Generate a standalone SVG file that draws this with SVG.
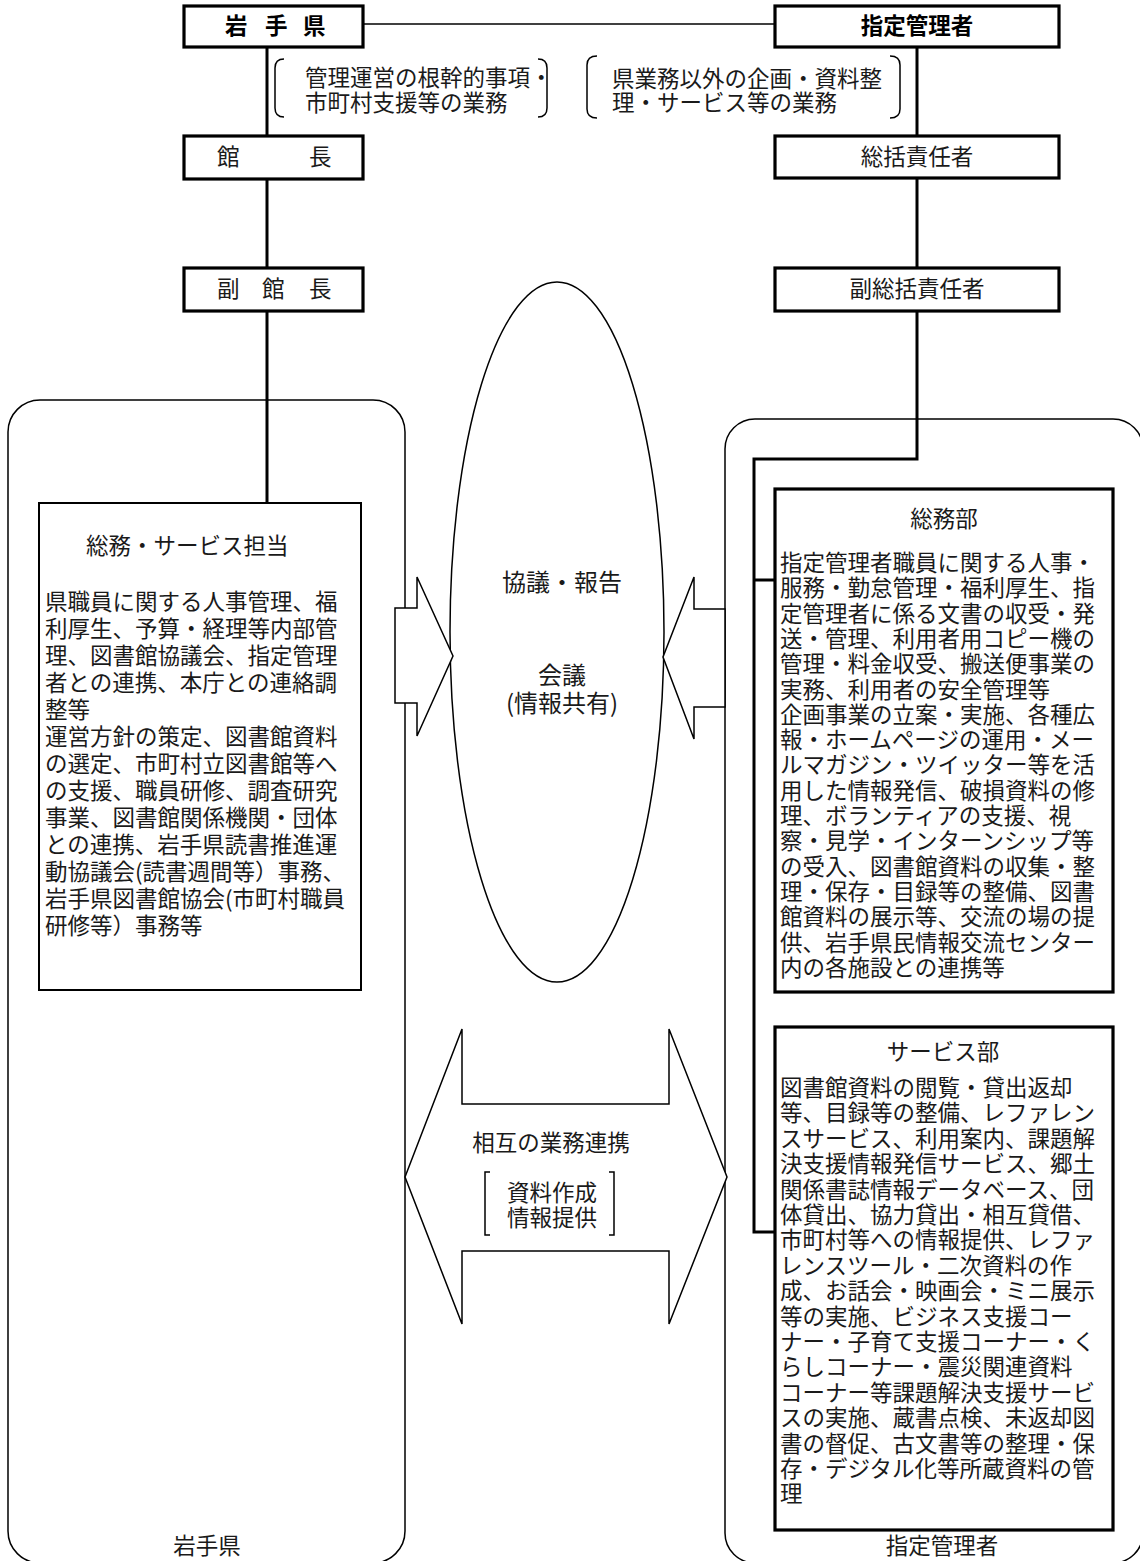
<svg xmlns="http://www.w3.org/2000/svg" width="1140" height="1561" viewBox="0 0 1140 1561">
<style>
text{font-family:"Noto Sans CJK JP","Noto Sans CJK SC",sans-serif;font-size:22.5px;fill:#1a1a1a}
.b{font-weight:bold;fill:#000}
.m{text-anchor:middle}
.big{font-size:24px}
.thick{fill:#fff;stroke:#000;stroke-width:3.2}
.thin{fill:none;stroke:#000;stroke-width:1.5}
.wf{fill:#fff;stroke:#000;stroke-width:1.5;stroke-linejoin:miter}
.conn{fill:none;stroke:#000;stroke-width:3}
</style>
<rect x="0" y="0" width="1140" height="1561" fill="#fff"/>

<g id="group-iwate">
<rect class="thin" x="8" y="400" width="397" height="1163" rx="32"/>
<text class="m" x="207" y="1554">岩手県</text>
</g>
<g id="group-shitei">
<rect class="thin" x="725" y="419" width="418" height="1144" rx="30"/>
<text class="m" x="942" y="1554">指定管理者</text>
</g>

<g id="meeting">
<ellipse class="thin" cx="557" cy="632" rx="107" ry="350"/>
<text class="m big" x="562" y="591">協議・報告</text>
<text class="m big" x="562" y="684">会議</text>
<text class="m big" x="562" y="712">(情報共有)</text>
</g>

<g id="arrows">
<polygon class="wf" points="395,608 417,608 417,577 453,656 417,736 417,703 395,703"/>
<polygon class="wf" points="725,609 694,609 694,577 663,657 694,739 694,707 725,707"/>
<polygon class="wf" points="405,1177 462,1029 462,1104 669,1104 669,1029 727,1177 669,1324 669,1251 462,1251 462,1324"/>
</g>
<g id="cooperation">
<text class="m" x="551" y="1151">相互の業務連携</text>
<path class="thin" d="M490,1172 H485 V1235 H490 M609,1172 H614 V1235 H609"/>
<text class="m" x="552" y="1201">資料作成</text>
<text class="m" x="552" y="1226">情報提供</text>
</g>

<g id="connectors">
<line class="thin" x1="363" y1="24" x2="775" y2="24"/>
<path class="conn" d="M267,47 V136 M267,179 V268 M267,311 V503"/>
<path class="conn" d="M917,47 V136 M917,178 V268 M917,311 V459 H754 V1232 H775 M754,580 H775"/>
</g>

<g id="node-iwate">
<rect class="thick" x="184" y="6" width="179" height="41"/>
<text class="b" x="225 265 303" y="34">岩手県</text>
</g>
<g id="node-shitei">
<rect class="thick" x="775" y="6" width="284" height="41"/>
<text class="b m" x="917" y="34">指定管理者</text>
</g>
<g id="note-iwate">
<path class="thin" d="M284,59 Q275,59 275,68 V108 Q275,117 284,117 M538,59 Q547,59 547,68 V108 Q547,117 538,117"/>
<text x="305" y="86">管理運営の根幹的事項・</text>
<text x="305" y="111">市町村支援等の業務</text>
</g>
<g id="note-shitei">
<path class="thin" d="M597,56 Q587,56 587,65 V109 Q587,118 597,118 M890,56 Q900,56 900,65 V109 Q900,118 890,118"/>
<text x="612" y="87">県業務以外の企画・資料整</text>
<text x="612" y="111">理・サービス等の業務</text>
</g>
<g id="node-kancho">
<rect class="thick" x="184" y="136" width="179" height="43"/>
<text x="217 309" y="165">館長</text>
</g>
<g id="node-fukukancho">
<rect class="thick" x="184" y="268" width="179" height="43"/>
<text x="217 262 309" y="297">副館長</text>
</g>
<g id="node-sokatsu">
<rect class="thick" x="775" y="136" width="284" height="42"/>
<text class="m" x="917" y="165">総括責任者</text>
</g>
<g id="node-fukusokatsu">
<rect class="thick" x="775" y="268" width="284" height="43"/>
<text class="m" x="917" y="297">副総括責任者</text>
</g>

<g id="node-somu-service">
<rect x="39" y="503" width="322" height="487" fill="#fff" stroke="#000" stroke-width="2"/>
<text x="86" y="554">総務・サービス担当</text>
<text x="45" y="610">県職員に関する人事管理、福</text>
<text x="45" y="637">利厚生、予算・経理等内部管</text>
<text x="45" y="664">理、図書館協議会、指定管理</text>
<text x="45" y="691">者との連携、本庁との連絡調</text>
<text x="45" y="718">整等</text>
<text x="45" y="745">運営方針の策定、図書館資料</text>
<text x="45" y="772">の選定、市町村立図書館等へ</text>
<text x="45" y="799">の支援、職員研修、調査研究</text>
<text x="45" y="826">事業、図書館関係機関・団体</text>
<text x="45" y="853">との連携、岩手県読書推進運</text>
<text x="45" y="880">動協議会(読書週間等）事務、</text>
<text x="45" y="907">岩手県図書館協会(市町村職員</text>
<text x="45" y="934">研修等）事務等</text>
</g>

<g id="node-somubu">
<rect class="thick" x="775" y="489" width="338" height="503"/>
<text class="m" x="944" y="527">総務部</text>
<text x="780" y="571">指定管理者職員に関する人事・</text>
<text x="780" y="596.3">服務・勤怠管理・福利厚生、指</text>
<text x="780" y="621.6">定管理者に係る文書の収受・発</text>
<text x="780" y="646.9">送・管理、利用者用コピー機の</text>
<text x="780" y="672.2">管理・料金収受、搬送便事業の</text>
<text x="780" y="697.5">実務、利用者の安全管理等</text>
<text x="780" y="722.8">企画事業の立案・実施、各種広</text>
<text x="780" y="748.1">報・ホームページの運用・メー</text>
<text x="780" y="773.4">ルマガジン・ツイッター等を活</text>
<text x="780" y="798.7">用した情報発信、破損資料の修</text>
<text x="780" y="824">理、ボランティアの支援、視</text>
<text x="780" y="849.3">察・見学・インターンシップ等</text>
<text x="780" y="874.6">の受入、図書館資料の収集・整</text>
<text x="780" y="899.9">理・保存・目録等の整備、図書</text>
<text x="780" y="925.2">館資料の展示等、交流の場の提</text>
<text x="780" y="950.5">供、岩手県民情報交流センター</text>
<text x="780" y="975.8">内の各施設との連携等</text>
</g>

<g id="node-servicebu">
<rect class="thick" x="775" y="1027" width="338" height="503"/>
<text class="m" x="943" y="1060">サービス部</text>
<text x="780" y="1096">図書館資料の閲覧・貸出返却</text>
<text x="780" y="1121.4">等、目録等の整備、レファレン</text>
<text x="780" y="1146.8">スサービス、利用案内、課題解</text>
<text x="780" y="1172.2">決支援情報発信サービス、郷土</text>
<text x="780" y="1197.6">関係書誌情報データベース、団</text>
<text x="780" y="1223">体貸出、協力貸出・相互貸借、</text>
<text x="780" y="1248.4">市町村等への情報提供、レファ</text>
<text x="780" y="1273.8">レンスツール・二次資料の作</text>
<text x="780" y="1299.2">成、お話会・映画会・ミニ展示</text>
<text x="780" y="1324.6">等の実施、ビジネス支援コー</text>
<text x="780" y="1350">ナー・子育て支援コーナー・く</text>
<text x="780" y="1375.4">らしコーナー・震災関連資料</text>
<text x="780" y="1400.8">コーナー等課題解決支援サービ</text>
<text x="780" y="1426.2">スの実施、蔵書点検、未返却図</text>
<text x="780" y="1451.6">書の督促、古文書等の整理・保</text>
<text x="780" y="1477">存・デジタル化等所蔵資料の管</text>
<text x="780" y="1502.4">理</text>
</g>
</svg>
